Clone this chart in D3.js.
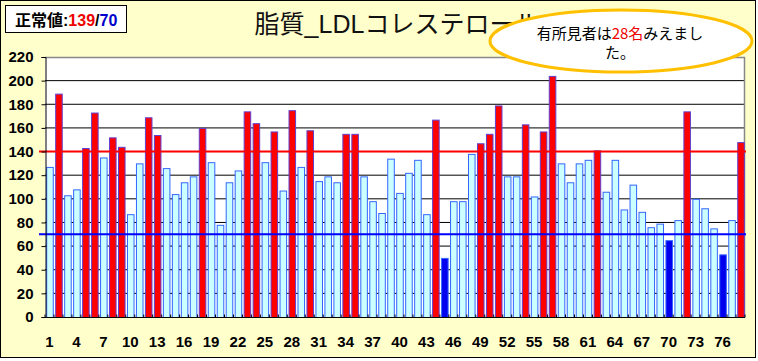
<!DOCTYPE html>
<html><head><meta charset="utf-8">
<script src="https://cdn.jsdelivr.net/npm/d3@7/dist/d3.min.js"></script>
<style>body{margin:0;background:#fff}svg{display:block}</style>
</head><body><svg id="c" width="758" height="361"></svg>
<script>
const ids = d3.range(1, 79);
const values = [127,189,103,108,143,173,135,152,144,87,130,169,154,126,104,114,119,160,131,78,114,124,174,164,131,157,107,175,127,158,115,119,114,155,155,119,98,88,134,105,122,133,87,167,50,98,98,138,147,155,179,119,119,163,102,157,204,130,114,130,133,141,106,133,91,112,89,76,79,65,82,174,100,92,75,53,82,148];
const yTicks = [0,20,40,60,80,100,120,140,160,180,200,220];
const xTickLabels = ids.filter(d => (d - 1) % 3 === 0);
const upperLimit = 139, lowerLimit = 70;
const upperLine = 140, lowerLine = 70;
const titleText = "脂質_LDLコレステロール";
const findingsCount = 28;

const svg = d3.select("#c");
const L = 45, R = 745, T = 57, B = 317;
svg.append("rect").attr("x",0.5).attr("y",0.5).attr("width",755).attr("height",357)
  .attr("fill","#FFFFCC").attr("stroke","#000");

const x = d3.scaleBand().domain(ids).range([L, R]).paddingInner(0.27).paddingOuter(0.135);
const y = d3.scaleLinear().domain([0, 220]).range([B, T]);

svg.append("rect").attr("x",L).attr("y",T).attr("width",R-L).attr("height",B-T).attr("fill","#fff");
// gridlines
svg.append("g").selectAll("line").data(yTicks.filter(d=>d>0 && d<220)).join("line")
  .attr("x1",L).attr("x2",R).attr("y1",d=>y(d)).attr("y2",d=>y(d)).attr("stroke","#000").attr("stroke-width",1);
// plot border top/right
svg.append("path").attr("d",`M${L},${T+0.5}H${R-0.5}V${B}`).attr("fill","none").attr("stroke","#888").attr("stroke-width",1.5);

// bars
const color = v => v > upperLimit ? "#FF0000" : (v < lowerLimit ? "#0000EE" : "#CCFFFF");
svg.append("g").selectAll("rect").data(ids).join("rect")
  .attr("x", d => x(d) + 0.5).attr("width", x.bandwidth())
  .attr("y", (d,i) => y(values[i]) + 0.5).attr("height", (d,i) => B - y(values[i]))
  .attr("fill", (d,i) => color(values[i]))
  .attr("stroke", (d,i) => values[i] > upperLimit ? "#6040D0" : "#3366FF").attr("stroke-width",1);

// limit lines
svg.append("line").attr("x1",39).attr("x2",746).attr("y1",y(upperLine)).attr("y2",y(upperLine))
  .attr("stroke","#FF0000").attr("stroke-width",2);
svg.append("line").attr("x1",39).attr("x2",746).attr("y1",y(lowerLine)).attr("y2",y(lowerLine))
  .attr("stroke","#0000FF").attr("stroke-width",2);

// y axis
const ya = d3.axisLeft(y).tickValues(yTicks).tickSize(4).tickPadding(8);
const gy = svg.append("g").attr("transform",`translate(${L+0.5},0)`).call(ya);
gy.select(".domain").attr("stroke","#000");
gy.selectAll("text").attr("font-family","Liberation Sans, Arial, sans-serif").attr("font-size",15)
  .attr("font-weight","bold").attr("fill","#000");

// x axis
const gx = svg.append("g").attr("transform",`translate(0,${B+0.5})`);
gx.append("line").attr("x1",L).attr("x2",R).attr("stroke","#000");
gx.selectAll("line.tk").data(ids.concat([79])).join("line").attr("class","tk")
  .attr("x1",(d)=> d<=78 ? x(d) - x.step()*x.paddingInner()/2 : R).attr("x2",(d)=> d<=78 ? x(d) - x.step()*x.paddingInner()/2 : R)
  .attr("y1",0).attr("y2",-3).attr("stroke","#000");
gx.selectAll("text").data(xTickLabels).join("text")
  .attr("x", d => x(d) + x.bandwidth()/2).attr("y", 29)
  .attr("text-anchor","middle").attr("font-family","Liberation Sans, Arial, sans-serif")
  .attr("font-size",15).attr("font-weight","bold").attr("fill","#000").text(d=>d);

// title
svg.append("text").attr("x",397).attr("y",33).attr("text-anchor","middle")
  .attr("font-family","Liberation Sans, 'Noto Sans CJK JP', sans-serif").attr("font-size",25).attr("fill","#111")
  .text(titleText);

// legend box
svg.append("rect").attr("x",5.5).attr("y",5.5).attr("width",121).attr("height",27).attr("fill","#fff").attr("stroke","#000");
const lt = svg.append("text").attr("x",15).attr("y",26).attr("font-family","Liberation Sans, 'Noto Sans CJK JP', sans-serif")
  .attr("font-size",16).attr("font-weight","bold");
lt.append("tspan").attr("fill","#000").text("正常値:");
lt.append("tspan").attr("fill","#EE0000").text(upperLimit);
lt.append("tspan").attr("fill","#000").text("/");
lt.append("tspan").attr("fill","#0000CC").text(lowerLimit);

// callout ellipse
svg.append("ellipse").attr("cx",621).attr("cy",41).attr("rx",131).attr("ry",31)
  .attr("fill","#fff").attr("stroke","#FFC000").attr("stroke-width",3);
const ct = svg.append("text").attr("x",620).attr("y",39).attr("text-anchor","middle")
  .attr("font-family","'Noto Sans CJK JP', sans-serif").attr("font-size",15).attr("fill","#000");
ct.append("tspan").text("有所見者は");
ct.append("tspan").attr("fill","#EE0000").text(findingsCount + "名");
ct.append("tspan").text("みえまし");
svg.append("text").attr("x",620).attr("y",58).attr("text-anchor","middle")
  .attr("font-family","'Noto Sans CJK JP', sans-serif").attr("font-size",15).attr("fill","#000").text("た。");
</script></body></html>
